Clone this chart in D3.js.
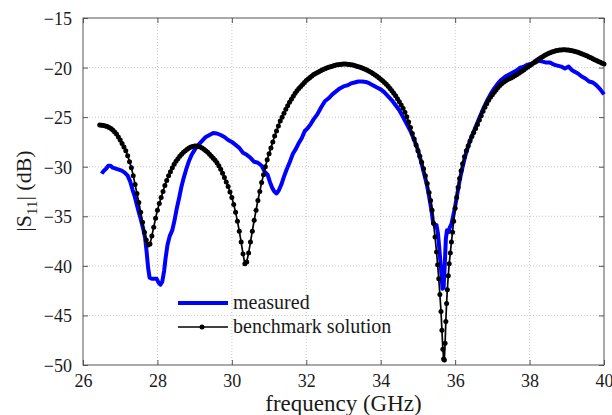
<!DOCTYPE html>
<html>
<head>
<meta charset="utf-8">
<script src="https://cdn.jsdelivr.net/npm/d3@7"></script>
<style>
  body { margin: 0; background: #fff; }
  svg { display: block; }
  text { font-family: 'Liberation Serif', 'DejaVu Serif', 'Times New Roman', Times, serif; }
</style>
</head>
<body>
<div id="chart"></div>
<script>
// tick values
var xTicks = [26, 28, 30, 32, 34, 36, 38, 40]
var yTicks = [-15, -20, -25, -30, -35, -40, -45, -50]

// measured |S11| (blue)
var measFreq = [26.5, 26.56, 26.62, 26.68, 26.74, 26.8, 26.88, 26.96, 27.04, 27.12, 27.2, 27.27, 27.33, 27.39, 27.45, 27.5, 27.56, 27.62, 27.67, 27.71,
  27.75, 27.79, 27.85, 27.92, 27.98, 28.03, 28.08, 28.13, 28.18, 28.22, 28.27, 28.33, 28.4, 28.46, 28.52, 28.58, 28.64, 28.7, 28.77, 28.84,
  28.92, 29.0, 29.1, 29.2, 29.3, 29.4, 29.5, 29.6, 29.7, 29.8, 29.9, 30.0, 30.1, 30.2, 30.3, 30.4, 30.5, 30.6, 30.7, 30.8,
  30.88, 30.96, 31.02, 31.08, 31.14, 31.2, 31.26, 31.33, 31.4, 31.48, 31.56, 31.64, 31.72, 31.8, 31.88, 31.96, 32.04, 32.12, 32.2, 32.3,
  32.4, 32.5, 32.6, 32.7, 32.8, 32.9, 33.0, 33.1, 33.2, 33.3, 33.4, 33.5, 33.6, 33.7, 33.8, 33.9, 34.0, 34.1, 34.2, 34.3,
  34.4, 34.5, 34.6, 34.7, 34.8, 34.9, 35.0, 35.08, 35.16, 35.24, 35.3, 35.36, 35.41, 35.46, 35.5, 35.54, 35.58, 35.62, 35.66, 35.69,
  35.72, 35.75, 35.78, 35.82, 35.86, 35.9, 35.95, 36.0, 36.06, 36.12, 36.2, 36.28, 36.36, 36.45, 36.55, 36.65, 36.75, 36.85, 36.95, 37.05,
  37.15, 37.25, 37.35, 37.45, 37.55, 37.65, 37.75, 37.85, 37.95, 38.05, 38.15, 38.25, 38.35, 38.45, 38.55, 38.65, 38.75, 38.85, 38.95, 39.05,
  39.12, 39.2, 39.3, 39.4, 39.5, 39.6, 39.7, 39.8, 39.9, 40.0]
var measS11 = [-30.7, -30.4, -30.2, -29.9, -29.9, -30.1, -30.2, -30.3, -30.4, -30.6, -30.9, -31.5, -32.3, -33.0, -33.9, -34.6, -35.4, -36.3, -37.2, -38.6,
  -40.2, -41.2, -41.3, -41.3, -41.3, -41.7, -41.9, -41.6, -40.5, -39.2, -37.9, -37.0, -36.4, -35.4, -34.2, -33.2, -32.1, -31.2, -30.3, -29.5,
  -28.8, -28.3, -27.8, -27.4, -27.0, -26.8, -26.6, -26.65, -26.8, -27.0, -27.3, -27.5, -27.8, -28.1, -28.6, -28.8, -29.1, -29.5, -29.6, -29.9,
  -30.5, -30.8, -31.5, -32.1, -32.5, -32.7, -32.4, -31.8, -31.0, -30.2, -29.5, -28.7, -28.2, -27.6, -27.1, -26.4, -26.1, -25.7, -25.2, -24.7,
  -24.0, -23.4, -23.1, -22.7, -22.4, -22.1, -21.9, -21.8, -21.6, -21.5, -21.4, -21.4, -21.45, -21.6, -21.8, -22.0, -22.2, -22.5, -22.9, -23.3,
  -23.8, -24.3, -25.0, -25.7, -26.4, -27.3, -28.3, -29.4, -30.6, -31.8, -33.0, -34.3, -35.7, -36.0, -35.9, -36.8, -38.5, -40.3, -42.3, -42.2,
  -40.0, -37.3, -36.4, -36.6, -36.1, -35.8, -34.9, -34.0, -32.7, -31.4, -30.0, -28.8, -27.8, -26.9, -26.0, -25.1, -24.2, -23.4, -22.7, -22.1,
  -21.6, -21.2, -20.9, -20.7, -20.5, -20.3, -20.0, -19.9, -19.7, -19.6, -19.5, -19.3, -19.4, -19.5, -19.5, -19.7, -19.8, -19.9, -20.1, -19.9,
  -20.2, -20.4, -20.6, -20.9, -21.1, -21.4, -21.5, -21.8, -22.2, -22.7]

// benchmark solution |S11| (black with dots)
var benchFreq = [26.45, 26.5, 26.55, 26.6, 26.65, 26.7, 26.75, 26.8, 26.85, 26.9,
  26.95, 27.0, 27.05, 27.1, 27.15, 27.2, 27.25, 27.3, 27.35, 27.4,
  27.45, 27.5, 27.55, 27.6, 27.65, 27.7, 27.75, 27.8, 27.85, 27.9,
  27.95, 28.0, 28.05, 28.1, 28.15, 28.2, 28.25, 28.3, 28.35, 28.4,
  28.45, 28.5, 28.55, 28.6, 28.65, 28.7, 28.75, 28.8, 28.85, 28.9,
  28.95, 29.0, 29.05, 29.1, 29.15, 29.2, 29.25, 29.3, 29.35, 29.4,
  29.45, 29.5, 29.55, 29.6, 29.65, 29.7, 29.75, 29.8, 29.85, 29.9,
  29.95, 30.0, 30.05, 30.1, 30.15, 30.2, 30.25, 30.3, 30.35, 30.4,
  30.45, 30.5, 30.55, 30.6, 30.65, 30.7, 30.75, 30.8, 30.85, 30.9,
  30.95, 31.0, 31.05, 31.1, 31.15, 31.2, 31.25, 31.3, 31.35, 31.4,
  31.45, 31.5, 31.55, 31.6, 31.65, 31.7, 31.75, 31.8, 31.85, 31.9,
  31.95, 32.0, 32.05, 32.1, 32.15, 32.2, 32.25, 32.3, 32.35, 32.4,
  32.45, 32.5, 32.55, 32.6, 32.65, 32.7, 32.75, 32.8, 32.85, 32.9,
  32.95, 33.0, 33.05, 33.1, 33.15, 33.2, 33.25, 33.3, 33.35, 33.4,
  33.45, 33.5, 33.55, 33.6, 33.65, 33.7, 33.75, 33.8, 33.85, 33.9,
  33.95, 34.0, 34.05, 34.1, 34.15, 34.2, 34.25, 34.3, 34.35, 34.4,
  34.45, 34.5, 34.55, 34.6, 34.65, 34.7, 34.75, 34.8, 34.85, 34.9,
  34.95, 35.0, 35.05, 35.1, 35.15, 35.2, 35.25, 35.3, 35.34, 35.38,
  35.42, 35.46, 35.5, 35.53, 35.56, 35.59, 35.62, 35.645, 35.67, 35.69,
  35.71, 35.73, 35.75, 35.77, 35.79, 35.815, 35.84, 35.87, 35.9, 35.93,
  35.96, 36.0, 36.04, 36.08, 36.12, 36.16, 36.2, 36.25, 36.3, 36.35,
  36.4, 36.45, 36.5, 36.55, 36.6, 36.65, 36.7, 36.75, 36.8, 36.85,
  36.9, 36.95, 37.0, 37.05, 37.1, 37.15, 37.2, 37.25, 37.3, 37.35,
  37.4, 37.45, 37.5, 37.55, 37.6, 37.65, 37.7, 37.75, 37.8, 37.85,
  37.9, 37.95, 38.0, 38.05, 38.1, 38.15, 38.2, 38.25, 38.3, 38.35,
  38.4, 38.45, 38.5, 38.55, 38.6, 38.65, 38.7, 38.75, 38.8, 38.85,
  38.9, 38.95, 39.0, 39.05, 39.1, 39.15, 39.2, 39.25, 39.3, 39.35,
  39.4, 39.45, 39.5, 39.55, 39.6, 39.65, 39.7, 39.75, 39.8, 39.85,
  39.9, 39.95, 40.0]
var benchS11 = [-25.8, -25.82, -25.85, -25.9, -25.95, -26.05, -26.15, -26.3, -26.5, -26.7,
  -27.0, -27.3, -27.65, -28.0, -28.4, -28.9, -29.5, -30.1, -30.9, -31.8,
  -32.7, -33.6, -34.6, -35.6, -36.6, -37.4, -37.9, -37.8, -37.0, -36.1,
  -35.2, -34.4, -33.7, -33.1, -32.5, -31.9, -31.4, -30.9, -30.5, -30.1,
  -29.75, -29.45, -29.2, -28.95, -28.75, -28.55, -28.4, -28.25, -28.1, -28.0,
  -27.95, -27.9, -27.9, -27.95, -28.0, -28.1, -28.25, -28.4, -28.55, -28.75,
  -28.95, -29.15, -29.35, -29.6, -29.9, -30.25, -30.65, -31.1, -31.55, -32.0,
  -32.55, -33.1, -33.8, -34.6, -35.5, -36.5, -37.6, -38.8, -39.8, -39.6,
  -38.7, -37.6, -36.5, -35.4, -34.4, -33.4, -32.5, -31.6, -30.8, -30.0,
  -29.3, -28.7, -28.1, -27.5, -26.9, -26.4, -25.9, -25.4, -25.0, -24.6,
  -24.2, -23.85, -23.5, -23.2, -22.9, -22.6, -22.35, -22.1, -21.9, -21.7,
  -21.5, -21.3, -21.15, -21.0, -20.85, -20.7, -20.6, -20.5, -20.4, -20.3,
  -20.2, -20.12, -20.05, -19.98, -19.92, -19.86, -19.8, -19.75, -19.71, -19.68,
  -19.66, -19.65, -19.65, -19.66, -19.68, -19.71, -19.75, -19.8, -19.86, -19.92,
  -19.98, -20.05, -20.12, -20.2, -20.3, -20.4, -20.5, -20.62, -20.75, -20.88,
  -21.02, -21.17, -21.33, -21.5, -21.68, -21.88, -22.1, -22.33, -22.58, -22.85,
  -23.14, -23.45, -23.77, -24.1, -24.5, -24.95, -25.5, -26.05, -26.65, -27.2,
  -27.8, -28.4, -28.95, -29.55, -30.2, -30.9, -31.7, -32.6, -33.4, -34.4,
  -35.7, -37.1, -38.6, -39.9, -41.3, -42.9, -44.6, -46.5, -48.4, -49.4,
  -49.5, -47.8, -45.6, -43.8, -42.4, -41.0, -39.8, -38.7, -37.6, -36.6,
  -35.5, -34.2, -33.1, -32.1, -31.2, -30.4, -29.7, -29.0, -28.4, -27.9,
  -27.4, -26.95, -26.55, -26.15, -25.75, -25.3, -24.85, -24.4, -24.0, -23.65,
  -23.3, -23.0, -22.75, -22.5, -22.25, -22.0, -21.8, -21.62, -21.47, -21.35,
  -21.24, -21.14, -21.04, -20.94, -20.83, -20.72, -20.6, -20.47, -20.34, -20.21,
  -20.08, -19.95, -19.82, -19.68, -19.54, -19.4, -19.27, -19.14, -19.02, -18.9,
  -18.79, -18.68, -18.58, -18.5, -18.43, -18.37, -18.31, -18.27, -18.24, -18.22,
  -18.21, -18.21, -18.22, -18.24, -18.27, -18.31, -18.35, -18.4, -18.46, -18.53,
  -18.6, -18.68, -18.76, -18.84, -18.93, -19.02, -19.11, -19.2, -19.29, -19.38,
  -19.47, -19.56, -19.65]

var seriesNames = ["measured", "benchmark solution"]

var width = 612, height = 415
var margin = {left: 83, top: 18, right: 8, bottom: 50}
var innerW = width - margin.left - margin.right
var innerH = height - margin.top - margin.bottom
var textColor = "#1a1a1a"

var svg = d3.select("#chart").append("svg")
    .attr("width", width)
    .attr("height", height)

var g = svg.append("g")
    .attr("transform", `translate(${margin.left}, ${margin.top})`)

var x = d3.scaleLinear().domain([26, 40]).range([0, innerW])
var y = d3.scaleLinear().domain([-50, -15]).range([innerH, 0])

/* grid */
g.append("g").selectAll("line")
    .data(xTicks.slice(1, -1)).enter()
    .append("line")
    .attr("x1", d => x(d)).attr("x2", d => x(d))
    .attr("y1", 0).attr("y2", innerH)
    .attr("stroke", "#bbb").attr("stroke-width", 0.8)
    .attr("stroke-dasharray", "1,2")
g.append("g").selectAll("line")
    .data(yTicks.slice(1, -1)).enter()
    .append("line")
    .attr("y1", d => y(d)).attr("y2", d => y(d))
    .attr("x1", 0).attr("x2", innerW)
    .attr("stroke", "#bbb").attr("stroke-width", 0.8)
    .attr("stroke-dasharray", "1,2")

/* axes, ticks pointing in */
var axisColor = "#555"
var styleAxis = sel => {
    sel.attr("font-family", null).attr("font-size", null)
    sel.select(".domain").remove()
    sel.selectAll(".tick line").attr("stroke", axisColor)
    sel.selectAll(".tick text")
        .style("font-size", "18px")
        .style("fill", textColor)
}
g.append("g")
    .attr("transform", `translate(0, ${innerH})`)
    .call(d3.axisBottom(x).tickValues(xTicks).tickSize(-5).tickPadding(5))
    .call(styleAxis)
    .selectAll("text").attr("dy", "0.95em")
g.append("g")
    .call(d3.axisTop(x).tickValues(xTicks).tickSize(-5).tickFormat(""))
    .call(styleAxis)
g.append("g")
    .call(d3.axisLeft(y).tickValues(yTicks).tickSize(-5).tickPadding(11))
    .call(styleAxis)
    .selectAll("text").attr("dy", "0.36em")
g.append("g")
    .attr("transform", `translate(${innerW}, 0)`)
    .call(d3.axisRight(y).tickValues(yTicks).tickSize(-5).tickFormat(""))
    .call(styleAxis)
g.append("rect")
    .attr("width", innerW).attr("height", innerH)
    .attr("fill", "none").attr("stroke", axisColor).attr("stroke-width", 1)

/* lines */
var line = d3.line()
    .x(d => x(d[0]))
    .y(d => y(d[1]))

var measured = measFreq.map((f, i) => [f, measS11[i]])
var bench = benchFreq.map((f, i) => [f, benchS11[i]])

g.append("path")
    .datum(measured)
    .attr("d", line)
    .attr("fill", "none")
    .attr("stroke", "#0000ff")
    .attr("stroke-width", 4)
    .attr("stroke-linejoin", "round")

g.append("path")
    .datum(bench)
    .attr("d", line)
    .attr("fill", "none")
    .attr("stroke", "#000")
    .attr("stroke-width", 1.7)

g.append("g").selectAll("circle")
    .data(bench).enter()
    .append("circle")
    .attr("cx", d => x(d[0]))
    .attr("cy", d => y(d[1]))
    .attr("r", 2.5)
    .attr("fill", "#000")

/* legend */
var legend = svg.append("g").attr("transform", "translate(178, 303)")
legend.append("line")
    .attr("x1", 0).attr("x2", 50).attr("y1", 0).attr("y2", 0)
    .attr("stroke", "#0000ff").attr("stroke-width", 4)
legend.append("line")
    .attr("x1", 0).attr("x2", 50).attr("y1", 24).attr("y2", 24)
    .attr("stroke", "#000").attr("stroke-width", 1.7)
legend.append("circle")
    .attr("cx", 24).attr("cy", 24).attr("r", 2.5).attr("fill", "#000")
legend.selectAll("text")
    .data(seriesNames).enter()
    .append("text")
    .attr("x", 55)
    .attr("y", (d, i) => 6 + 24 * i)
    .style("font-size", "20px")
    .style("fill", textColor)
    .text(d => d)

/* axis labels */
svg.append("text")
    .attr("x", margin.left + innerW / 2)
    .attr("y", 411)
    .attr("text-anchor", "middle")
    .style("font-size", "23px")
    .style("fill", textColor)
    .text("frequency (GHz)")

var ylab = svg.append("text")
    .attr("transform", "translate(31, 191) rotate(-90)")
    .attr("text-anchor", "middle")
    .style("font-size", "22px")
    .style("fill", textColor)
ylab.append("tspan").text("|S")
ylab.append("tspan").attr("dy", 6).style("font-size", "15px").text("11")
ylab.append("tspan").attr("dy", -6).text("| (dB)")
</script>
</body>
</html>
